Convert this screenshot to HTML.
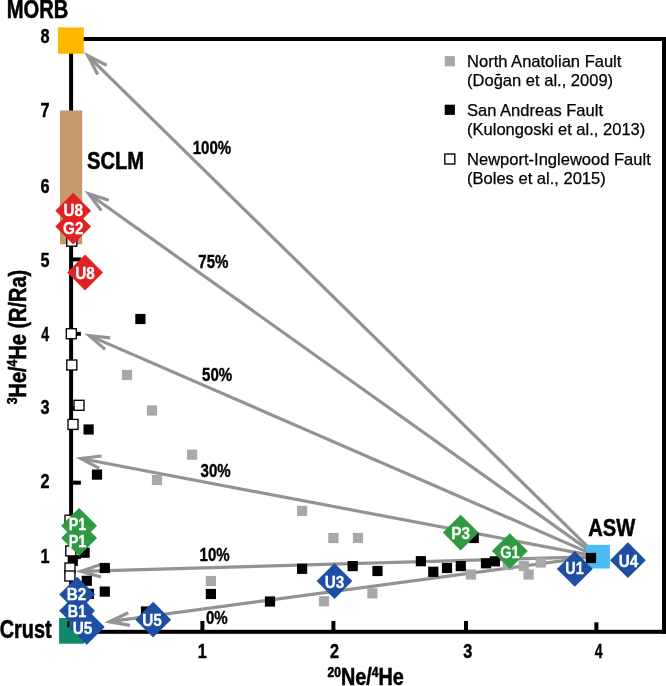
<!DOCTYPE html>
<html lang="en"><head><meta charset="utf-8"><title>He-Ne mixing plot</title>
<style>html,body{margin:0;padding:0;background:#fff}svg{display:block}text{font-family:"Liberation Sans",Arial,Helvetica,sans-serif}.b{font-weight:bold;stroke:#000;stroke-width:0.55px}.t20{font-size:24.8px}.n{font-size:19.6px;font-weight:bold;stroke:#000;stroke-width:0.4px}.lg{font-size:16.55px;fill:#000;stroke:#000;stroke-width:0.25px}.d{font-weight:bold;font-size:17px;fill:#fff;stroke:#fff;stroke-width:0.3px;text-anchor:middle}</style></head><body>
<svg width="666" height="686" viewBox="0 0 666 686">
<rect width="666" height="686" fill="#fff"/>
<g fill="#000">
<rect x="69.1" y="37" width="4" height="596.8"/>
<rect x="69.1" y="37" width="597" height="4"/>
<rect x="662" y="37" width="4" height="596.8"/>
<rect x="69.1" y="629.8" width="597" height="4"/>
<rect x="200.4" y="621" width="4" height="9"/>
<rect x="331.4" y="621" width="4" height="9"/>
<rect x="464.0" y="621" width="4" height="9"/>
<rect x="594.4" y="622.3" width="4" height="9"/>
<rect x="71" y="555.1" width="9.9" height="4"/>
<rect x="71" y="480.7" width="9.9" height="4"/>
<rect x="71" y="406.2" width="9.9" height="4"/>
<rect x="71" y="331.8" width="9.9" height="4"/>
<rect x="71" y="257.4" width="9.9" height="4"/>
<rect x="71" y="182.9" width="9.9" height="4"/>
</g>
<g stroke="#939393" stroke-width="3.2" fill="none" stroke-linejoin="miter" stroke-miterlimit="10">
<line x1="597.8" y1="556.6" x2="87.9" y2="55.8"/>
<polyline points="106.6,65.3 87.9,55.8 97.7,74.4"/>
<line x1="597.8" y1="556.6" x2="88.7" y2="193.8"/>
<polyline points="108.7,200.3 88.7,193.8 101.3,210.6"/>
<line x1="597.8" y1="556.6" x2="89.2" y2="335.6"/>
<polyline points="110.1,337.8 89.2,335.6 105.1,349.4"/>
<line x1="597.8" y1="556.6" x2="80.7" y2="458.5"/>
<polyline points="101.6,456.0 80.7,458.5 99.2,468.4"/>
<line x1="597.8" y1="556.6" x2="80.8" y2="571.3"/>
<polyline points="100.6,564.4 80.8,571.3 101.0,577.0"/>
<line x1="597.8" y1="556.0" x2="109.3" y2="621.7"/>
<polyline points="128.3,612.8 109.3,621.7 130.0,625.3"/>
</g>
<rect x="57.9" y="27.4" width="25.9" height="26.3" fill="#fdb900"/>
<rect x="60" y="110.5" width="22.2" height="133.8" fill="#c49a6c"/>
<rect x="59.1" y="618" width="25" height="25.7" fill="#10896a"/>
<rect x="585.8" y="544.8" width="24.1" height="23.7" fill="#4bbaf5"/>
<rect x="67.3" y="621.3" width="2.2" height="6" fill="#000"/>
<rect x="121.9" y="369.9" width="10.2" height="10.2" fill="#a8a8a8"/>
<rect x="146.9" y="405.4" width="10.2" height="10.2" fill="#a8a8a8"/>
<rect x="187.0" y="449.6" width="10.2" height="10.2" fill="#a8a8a8"/>
<rect x="151.9" y="474.9" width="10.2" height="10.2" fill="#a8a8a8"/>
<rect x="297.0" y="505.8" width="10.2" height="10.2" fill="#a8a8a8"/>
<rect x="328.3" y="532.9" width="10.2" height="10.2" fill="#a8a8a8"/>
<rect x="352.9" y="532.9" width="10.2" height="10.2" fill="#a8a8a8"/>
<rect x="205.8" y="575.9" width="10.2" height="10.2" fill="#a8a8a8"/>
<rect x="318.9" y="596.2" width="10.2" height="10.2" fill="#a8a8a8"/>
<rect x="367.3" y="588.2" width="10.2" height="10.2" fill="#a8a8a8"/>
<rect x="465.9" y="569.4" width="10.2" height="10.2" fill="#a8a8a8"/>
<rect x="502.7" y="559.9" width="10.2" height="10.2" fill="#a8a8a8"/>
<rect x="518.7" y="560.9" width="10.2" height="10.2" fill="#a8a8a8"/>
<rect x="523.5" y="569.4" width="10.2" height="10.2" fill="#a8a8a8"/>
<rect x="535.7" y="557.4" width="10.2" height="10.2" fill="#a8a8a8"/>
<rect x="135.3" y="313.9" width="10.2" height="10.2" fill="#000"/>
<rect x="83.5" y="424.4" width="10.2" height="10.2" fill="#000"/>
<rect x="91.9" y="469.5" width="10.2" height="10.2" fill="#000"/>
<rect x="79.5" y="547.6" width="10.2" height="10.2" fill="#000"/>
<rect x="67.7" y="555.7" width="10.2" height="10.2" fill="#000"/>
<rect x="99.7" y="562.9" width="10.2" height="10.2" fill="#000"/>
<rect x="81.7" y="575.7" width="10.2" height="10.2" fill="#000"/>
<rect x="99.7" y="586.5" width="10.2" height="10.2" fill="#000"/>
<rect x="83.7" y="588.7" width="10.2" height="10.2" fill="#000"/>
<rect x="205.8" y="588.9" width="10.2" height="10.2" fill="#000"/>
<rect x="140.9" y="606.4" width="10.2" height="10.2" fill="#000"/>
<rect x="264.9" y="596.4" width="10.2" height="10.2" fill="#000"/>
<rect x="297.0" y="563.7" width="10.2" height="10.2" fill="#000"/>
<rect x="347.6" y="561.0" width="10.2" height="10.2" fill="#000"/>
<rect x="372.4" y="565.9" width="10.2" height="10.2" fill="#000"/>
<rect x="415.8" y="556.1" width="10.2" height="10.2" fill="#000"/>
<rect x="428.2" y="566.7" width="10.2" height="10.2" fill="#000"/>
<rect x="441.9" y="562.9" width="10.2" height="10.2" fill="#000"/>
<rect x="455.7" y="561.0" width="10.2" height="10.2" fill="#000"/>
<rect x="468.6" y="532.9" width="10.2" height="10.2" fill="#000"/>
<rect x="480.9" y="558.2" width="10.2" height="10.2" fill="#000"/>
<rect x="489.8" y="556.2" width="10.2" height="10.2" fill="#000"/>
<rect x="585.9" y="552.9" width="10.2" height="10.2" fill="#000"/>
<rect x="66.8" y="236.2" width="10.0" height="10.0" fill="#fff" stroke="#000" stroke-width="1.35"/>
<rect x="66.3" y="328.7" width="10.0" height="10.0" fill="#fff" stroke="#000" stroke-width="1.35"/>
<rect x="66.8" y="360.0" width="10.0" height="10.0" fill="#fff" stroke="#000" stroke-width="1.35"/>
<rect x="74.0" y="400.3" width="10.0" height="10.0" fill="#fff" stroke="#000" stroke-width="1.35"/>
<rect x="68.0" y="419.4" width="10.0" height="10.0" fill="#fff" stroke="#000" stroke-width="1.35"/>
<rect x="65.0" y="515.2" width="10.0" height="10.0" fill="#fff" stroke="#000" stroke-width="1.35"/>
<rect x="65.8" y="545.9" width="10.0" height="10.0" fill="#fff" stroke="#000" stroke-width="1.35"/>
<rect x="65.0" y="563.0" width="10.0" height="10.0" fill="#fff" stroke="#000" stroke-width="1.35"/>
<rect x="64.9" y="571.0" width="10.0" height="10.0" fill="#fff" stroke="#000" stroke-width="1.35"/>
<polygon points="73.2,192.8 91.1,210.7 73.2,228.6 55.3,210.7" fill="#e02222"/>
<polygon points="73.2,208.7 91.1,226.6 73.2,244.5 55.3,226.6" fill="#e02222"/>
<polygon points="85.1,254.6 103.0,272.5 85.1,290.4 67.2,272.5" fill="#e02222"/>
<polygon points="79.1,507.9 97.0,525.8 79.1,543.7 61.2,525.8" fill="#2f9a41"/>
<polygon points="79.1,520.1 97.0,538 79.1,555.9 61.2,538" fill="#2f9a41"/>
<polygon points="460.7,514.7 478.6,532.6 460.7,550.5 442.8,532.6" fill="#2f9a41"/>
<polygon points="509.8,533.2 527.7,551.1 509.8,569.0 491.9,551.1" fill="#2f9a41"/>
<polygon points="77.1,576.7 95.0,594.6 77.1,612.5 59.2,594.6" fill="#1f4fa3"/>
<polygon points="77.1,592.9 95.0,610.8 77.1,628.7 59.2,610.8" fill="#1f4fa3"/>
<polygon points="86.8,609.0 104.7,626.9 86.8,644.8 68.9,626.9" fill="#1f4fa3"/>
<polygon points="153.2,601.8 171.1,619.7 153.2,637.6 135.3,619.7" fill="#1f4fa3"/>
<polygon points="334.5,563.2 352.4,581.1 334.5,599.0 316.6,581.1" fill="#1f4fa3"/>
<polygon points="574.8,551.0 592.7,568.9 574.8,586.8 556.9,568.9" fill="#1f4fa3"/>
<polygon points="627.9,542.3 645.8,560.2 627.9,578.1 610.0,560.2" fill="#1f4fa3"/>
<text class="d" transform="translate(73.2,215.9) scale(0.9,1)">U8</text>
<text class="d" transform="translate(73.2,234.1) scale(0.9,1)">G2</text>
<text class="d" transform="translate(85.1,279.3) scale(0.9,1)">U8</text>
<text class="d" transform="translate(77.5,529.7) scale(0.85,1)">P1</text>
<text class="d" transform="translate(77.5,547.4) scale(0.85,1)">P1</text>
<text class="d" transform="translate(460.7,539.1) scale(0.9,1)">P3</text>
<text class="d" transform="translate(509.8,557.6) scale(0.85,1)">G1</text>
<text class="d" transform="translate(76.5,600.3) scale(0.9,1)">B2</text>
<text class="d" transform="translate(77,617.4) scale(0.85,1)">B1</text>
<text class="d" transform="translate(82.4,633.5) scale(0.9,1)">U5</text>
<text class="d" transform="translate(151.9,626.2) scale(0.9,1)">U5</text>
<text class="d" transform="translate(334.5,587.6) scale(0.9,1)">U3</text>
<text class="d" transform="translate(574.6,573.7) scale(0.85,1)">U1</text>
<text class="d" transform="translate(628.5,566.8) scale(0.9,1)">U4</text>
<text class="b t20" transform="translate(6.8,17.7) scale(0.797,1)" style="font-size:25.3px">MORB</text>
<text class="b t20" transform="translate(87,169.2) scale(0.812,1)">SCLM</text>
<text class="b t20" transform="translate(-0.3,638.1) scale(0.795,1)" style="font-size:25px">Crust</text>
<text class="b t20" transform="translate(588.3,535.6) scale(0.812,1)">ASW</text>
<text class="b t20" transform="translate(327.6,685.4) scale(0.86,1)" style="font-size:23px"><tspan font-size="14" dy="-8.8">20</tspan><tspan dy="8.8">Ne/</tspan><tspan font-size="14" dy="-8.8">4</tspan><tspan dy="8.8">He</tspan></text>
<text class="b t20" transform="translate(26.0,404.3) rotate(-90) scale(0.818,1)" style="font-size:24.4px"><tspan font-size="15" dy="-8.6">3</tspan><tspan dy="8.6">He/</tspan><tspan font-size="15" dy="-8.6">4</tspan><tspan dy="8.6">He (R/Ra)</tspan></text>
<text class="n" transform="translate(45.1,43) scale(0.83,1)" text-anchor="middle">8</text>
<text class="n" transform="translate(45.1,116.6) scale(0.83,1)" text-anchor="middle">7</text>
<text class="n" transform="translate(45.1,193.3) scale(0.83,1)" text-anchor="middle">6</text>
<text class="n" transform="translate(45.1,267) scale(0.83,1)" text-anchor="middle">5</text>
<text class="n" transform="translate(45.1,340.7) scale(0.72,1)" text-anchor="middle">4</text>
<text class="n" transform="translate(45.1,414.3) scale(0.83,1)" text-anchor="middle">3</text>
<text class="n" transform="translate(45.1,487.5) scale(0.83,1)" text-anchor="middle">2</text>
<text class="n" transform="translate(44.9,563) scale(0.83,1)" text-anchor="middle">1</text>
<text class="n" transform="translate(202.2,658.2) scale(0.83,1)" text-anchor="middle">1</text>
<text class="n" transform="translate(334.4,658.2) scale(0.83,1)" text-anchor="middle">2</text>
<text class="n" transform="translate(467.7,658.2) scale(0.83,1)" text-anchor="middle">3</text>
<text class="n" transform="translate(598.6,658.2) scale(0.72,1)" text-anchor="middle">4</text>
<text class="n" transform="translate(192.7,153.7) scale(0.785,1)" style="font-size:19.2px">100%</text>
<text class="n" transform="translate(198.29999999999998,267.7) scale(0.785,1)" style="font-size:19.2px">75%</text>
<text class="n" transform="translate(202.1,380.7) scale(0.785,1)" style="font-size:19.2px">50%</text>
<text class="n" transform="translate(200.5,477.2) scale(0.785,1)" style="font-size:19.2px">30%</text>
<text class="n" transform="translate(199.5,561.4000000000001) scale(0.785,1)" style="font-size:19.2px">10%</text>
<text class="n" transform="translate(205.89999999999998,624.4000000000001) scale(0.785,1)" style="font-size:19.2px">0%</text>
<rect x="444.7" y="56.1" width="10.2" height="10.2" fill="#a8a8a8"/>
<rect x="444.7" y="104.7" width="10.2" height="10.2" fill="#000"/>
<rect x="444.8" y="154.0" width="10.0" height="10.0" fill="#fff" stroke="#000" stroke-width="1.35"/>
<g class="lg">
<text x="467" y="66.6">North Anatolian Fault</text>
<text x="467" y="86.2">(Doğan et al., 2009)</text>
<text x="467" y="115.8">San Andreas Fault</text>
<text x="467" y="135.4">(Kulongoski et al., 2013)</text>
<text x="467" y="164.6">Newport-Inglewood Fault</text>
<text x="467" y="184.1">(Boles et al., 2015)</text>
</g>
</svg></body></html>
